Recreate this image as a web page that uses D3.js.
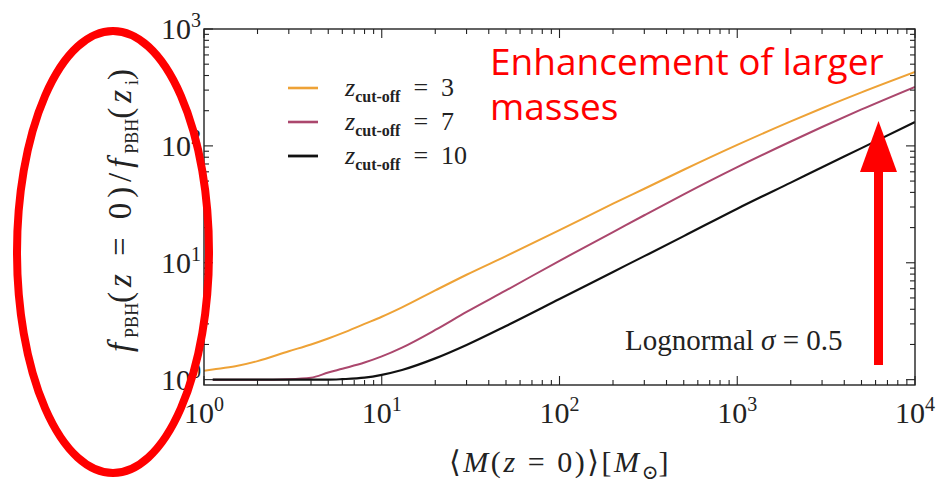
<!DOCTYPE html>
<html>
<head>
<meta charset="utf-8">
<script src="https://cdn.jsdelivr.net/npm/d3@7"></script>
<style>
  html, body { margin: 0; padding: 0; background: #fff; }
  svg { display: block; }
</style>
</head>
<body>
<svg id="chart" width="940" height="483"></svg>
<script>
// Mean mass today (solar masses) shared by all three curves
const masses = [1, 1.12, 1.5, 2, 3, 4, 5, 6, 8, 10, 13, 20, 30, 50, 100, 200, 300, 500, 1000, 2000, 3000, 5000, 10000];
// f_PBH(z=0)/f_PBH(z_i) for each cut-off redshift (null = not plotted)
const ratioCut3  = [1.19, 1.22, 1.30, 1.44, 1.75, 2.0, 2.25, 2.5, 3.0, 3.45, 4.15, 5.8, 7.9, 11.4, 19, 32, 43, 62.5, 102, 162, 210, 287, 429];
const ratioCut7  = [null, 1.0, 1.0, 1.0, 1.01, 1.04, 1.15, 1.24, 1.4, 1.58, 1.88, 2.66, 3.8, 5.8, 10.4, 18.3, 25.5, 38.5, 65.8, 109, 145, 205, 320];
const ratioCut10 = [null, 1.0, 1.0, 1.0, 1.0, 1.0, 1.0, 1.01, 1.04, 1.1, 1.21, 1.52, 1.98, 2.88, 4.9, 8.35, 11.4, 16.9, 29, 48.5, 65.5, 95.7, 160];
const cutoffLabels = ["3", "7", "10"];
const xTickExponents = [0, 1, 2, 3, 4];
const yTickExponents = [0, 1, 2, 3];

const series = [
  { label: cutoffLabels[0], values: ratioCut3,  color: "#eea236", width: 2.0 },
  { label: cutoffLabels[1], values: ratioCut7,  color: "#ab476d", width: 2.0 },
  { label: cutoffLabels[2], values: ratioCut10, color: "#111111", width: 2.2 }
];

const svg = d3.select("#chart");
const plot = { left: 204, right: 915, top: 29, bottom: 385 };

const x = d3.scaleLog().domain([1, 1e4]).range([plot.left, plot.right]);
const y = d3.scaleLog().domain([0.9, 1e3]).range([plot.bottom, plot.top]);

const serif = "'Liberation Serif', 'DejaVu Serif', serif";
const axisColor = "#222";

// curves, clipped to the axes box
svg.append("defs").append("clipPath").attr("id", "plotClip")
  .append("rect")
  .attr("x", plot.left).attr("y", plot.top)
  .attr("width", plot.right - plot.left).attr("height", plot.bottom - plot.top);

const line = d3.line()
  .defined(d => d[1] != null)
  .x(d => x(d[0]))
  .y(d => y(d[1]))
  .curve(d3.curveMonotoneX);

const curves = svg.append("g").attr("clip-path", "url(#plotClip)");
series.forEach(s => {
  curves.append("path")
    .datum(masses.map((m, i) => [m, s.values[i]]))
    .attr("fill", "none")
    .attr("stroke", s.color)
    .attr("stroke-width", s.width)
    .attr("stroke-linejoin", "round")
    .attr("d", line);
});

// frame
svg.append("rect")
  .attr("x", plot.left).attr("y", plot.top)
  .attr("width", plot.right - plot.left).attr("height", plot.bottom - plot.top)
  .attr("fill", "none").attr("stroke", axisColor).attr("stroke-width", 1.4);

// inward ticks on all four sides
const isMajor = v => Math.abs(Math.log10(v) - Math.round(Math.log10(v))) < 1e-9;
const ticksG = svg.append("g").attr("stroke", axisColor).attr("stroke-width", 1.1);
x.ticks().forEach(v => {
  const px = x(v), len = isMajor(v) ? 9 : 5;
  ticksG.append("line").attr("x1", px).attr("x2", px).attr("y1", plot.bottom).attr("y2", plot.bottom - len);
  ticksG.append("line").attr("x1", px).attr("x2", px).attr("y1", plot.top).attr("y2", plot.top + len);
});
y.ticks().filter(v => v >= 1).forEach(v => {
  const py = y(v), len = isMajor(v) ? 9 : 5;
  ticksG.append("line").attr("y1", py).attr("y2", py).attr("x1", plot.left).attr("x2", plot.left + len);
  ticksG.append("line").attr("y1", py).attr("y2", py).attr("x1", plot.right).attr("x2", plot.right - len);
});

// tick labels 10^n
function powerLabel(g, px, py, exp, anchor) {
  const t = g.append("text")
    .attr("x", px).attr("y", py)
    .attr("text-anchor", anchor)
    .attr("font-family", serif)
    .attr("font-size", 30)
    .attr("fill", "#222");
  t.append("tspan").text("10");
  t.append("tspan").attr("font-size", 20).attr("dy", -12).text(String(exp));
  return t;
}
const labelsG = svg.append("g");
xTickExponents.forEach(e => powerLabel(labelsG, x(Math.pow(10, e)), 423, e, "middle"));
yTickExponents.forEach(e => powerLabel(labelsG, 201, y(Math.pow(10, e)) + 10, e, "end"));

// build a math-like label from [text, style] parts; "sub" parts are lowered and smaller
function mathText(sel, parts, subSize) {
  parts.forEach(([txt, kind]) => {
    const sp = sel.append("tspan").text(txt);
    if (kind === "i") sp.attr("font-style", "italic");
    if (kind === "sub") sp.attr("class", "sub").attr("font-size", subSize).attr("dy", 7);
    if (kind === "up") sp.attr("dy", -7);
  });
}
// widen the main-size glyph spacing so the label spans the given length
function fitSpacing(sel, target) {
  const natural = sel.node().getComputedTextLength();
  const mains = sel.selectAll("tspan").filter(function () { return !this.classList.contains("sub"); });
  let n = 0;
  mains.each(function () { n += this.textContent.length; });
  const extra = Math.max(0, (target - natural) / n);
  mains.attr("letter-spacing", extra);
}

// axis titles
const xTitle = svg.append("text")
  .attr("x", 560).attr("y", 472)
  .attr("text-anchor", "middle")
  .attr("font-family", serif).attr("font-size", 30).attr("fill", "#222");
mathText(xTitle, [
  ["\u27E8", ""], ["M", "i"], ["(", ""], ["z", "i"], [" = 0)\u27E9[", ""],
  ["M", "i"], ["\u2299", "sub"], ["]", "up"]
], 20);
fitSpacing(xTitle, 222);

const yTitle = svg.append("text")
  .attr("transform", "translate(131,208) rotate(-90)")
  .attr("text-anchor", "middle")
  .attr("font-family", serif).attr("font-size", 33).attr("fill", "#222");
mathText(yTitle, [
  ["f", "i"], ["PBH", "sub"], ["(", "up"], ["z", "i"], [" = 0)/", ""],
  ["f", "i"], ["PBH", "sub"], ["(", "up"], ["z", "i"], ["i", "sub"], [")", "up"]
], 18);
fitSpacing(yTitle, 288);

// legend
const legend = svg.append("g");
series.forEach((s, i) => {
  const ly = 88 + i * 34;
  legend.append("line")
    .attr("x1", 288).attr("x2", 318).attr("y1", ly).attr("y2", ly)
    .attr("stroke", s.color).attr("stroke-width", s.width + 0.6);
  const t = legend.append("text")
    .attr("x", 345).attr("y", ly + 8)
    .attr("font-family", serif).attr("font-size", 26).attr("fill", "#222");
  t.append("tspan").attr("font-style", "italic").text("z");
  t.append("tspan").attr("font-size", 16).attr("font-weight", "bold").attr("dy", 6).text("cut-off");
  t.append("tspan").attr("dy", -6).text("\u2002=\u2002" + s.label);
});

// in-plot note
svg.append("text")
  .attr("x", 625).attr("y", 350)
  .attr("font-family", serif).attr("font-size", 29).attr("fill", "#222")
  .call(t => {
    t.append("tspan").text("Lognormal ");
    t.append("tspan").attr("font-style", "italic").text("\u03C3");
    t.append("tspan").text(" = 0.5");
  });

// red highlights
const red = "#ff0000";
svg.append("ellipse")
  .attr("cx", 113).attr("cy", 252).attr("rx", 96).attr("ry", 221)
  .attr("fill", "none").attr("stroke", red).attr("stroke-width", 8);

svg.append("rect")
  .attr("x", 874).attr("y", 168).attr("width", 9).attr("height", 197)
  .attr("fill", red);
svg.append("path")
  .attr("d", "M878.5,121 L897,172 L860,172 Z")
  .attr("fill", red);

const note = svg.append("text")
  .attr("font-family", "'Open Sans', sans-serif").attr("font-size", 37).attr("fill", red);
note.append("tspan").attr("x", 490).attr("y", 75).text("Enhancement of larger");
note.append("tspan").attr("x", 490).attr("y", 120).text("masses");
</script>
</body>
</html>
